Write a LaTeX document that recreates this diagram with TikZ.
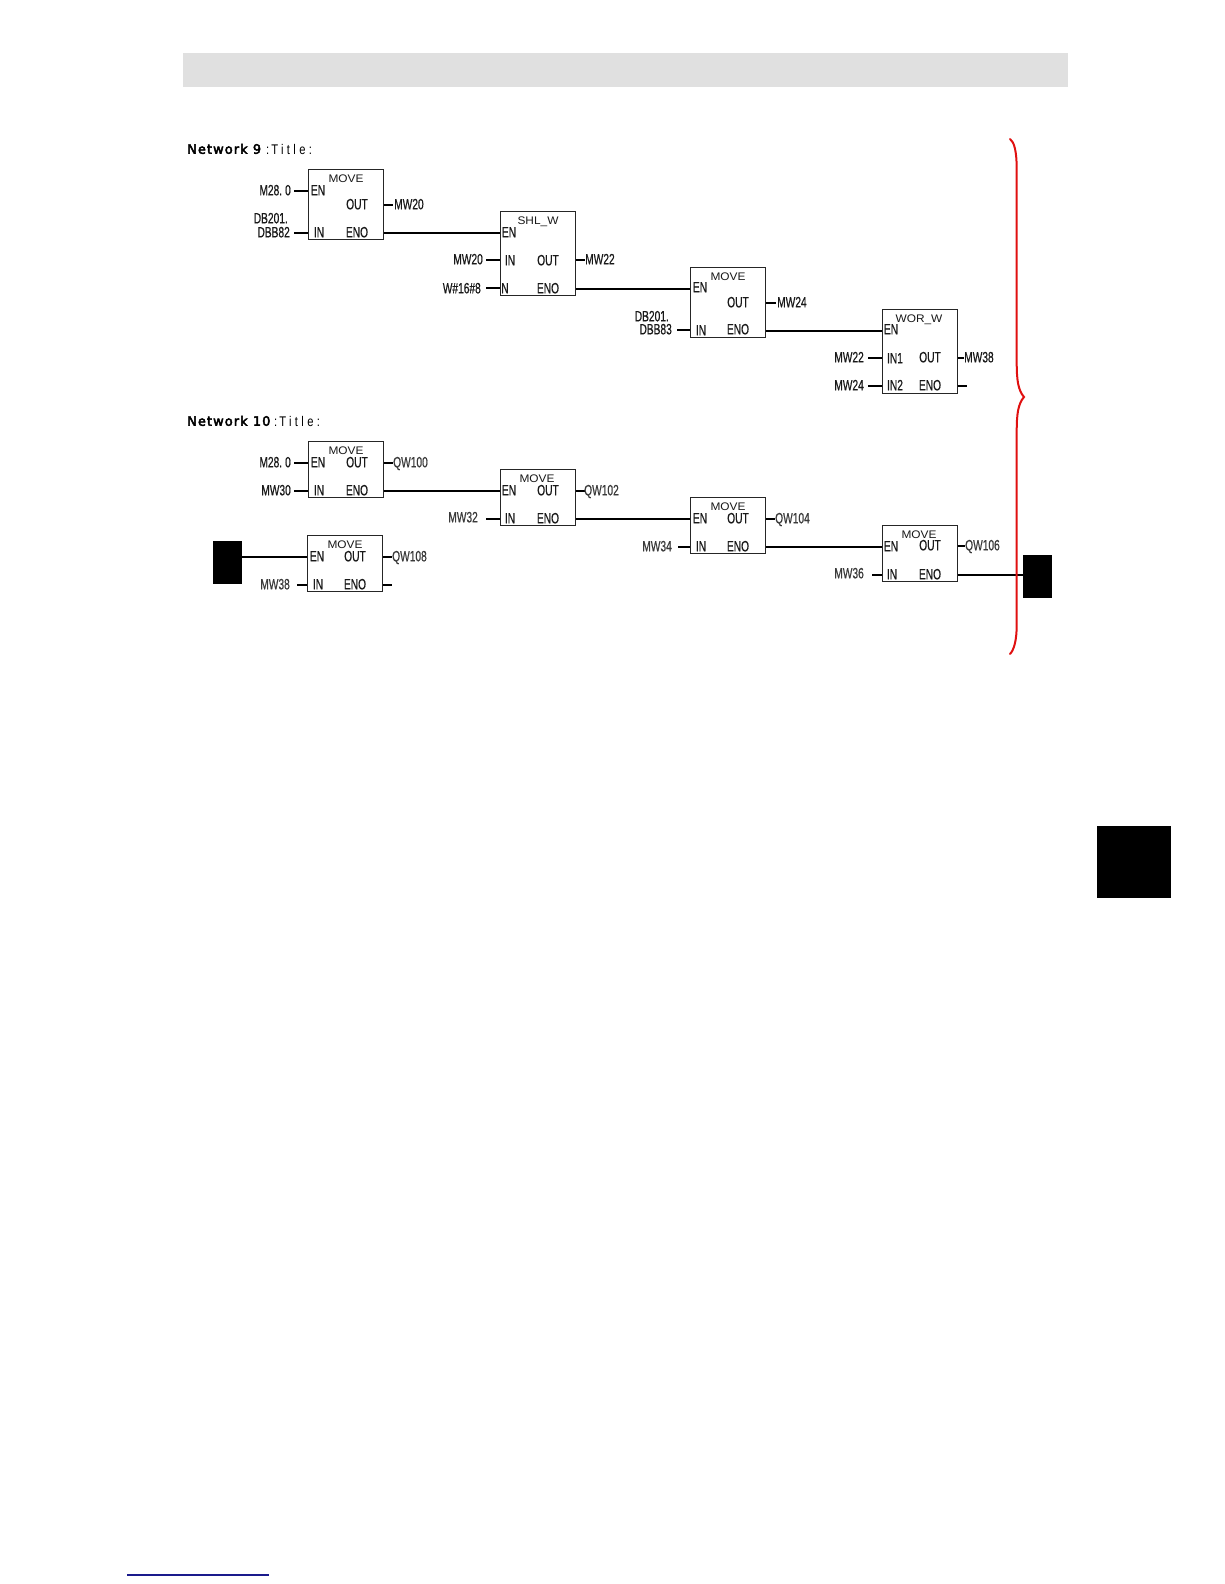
\documentclass[tikz,border=0pt]{standalone}
\usepackage{fontspec}
\newfontfamily\plcfont[FakeStretch=0.68,FakeBold=0.5]{Liberation Sans}
\newfontfamily\plchead[FakeStretch=1.08]{Liberation Sans}
\newfontfamily\plcbold[FakeStretch=1.0,FakeBold=3.5,LetterSpace=8]{DejaVu Sans}
\newfontfamily\plctitle[FakeStretch=0.8,LetterSpace=24]{Liberation Sans}
\definecolor{bandgray}{HTML}{E0E0E0}
\definecolor{bracered}{HTML}{E01010}
\definecolor{linkblue}{HTML}{1A1A8C}
\definecolor{softtext}{HTML}{3A3A3A}
\tikzset{
  x=1pt,y=-1pt,
  fblock/.style={draw=black!85,line width=1pt,fill=white,inner sep=0,minimum width=75pt},
  wire/.style={line width=2pt,black},
  pin/.style={font=\plcfont\fontsize{15}{15}\selectfont,inner sep=0,text=black!90,anchor=center,text height=10.7pt,text depth=0pt},
  lbl/.style={pin,anchor=west},
  lblr/.style={pin,anchor=east},
  soft/.style={text=softtext},
  headtxt/.style={font=\plchead\fontsize{11}{11}\selectfont,inner sep=0,text=black!90,anchor=center,text height=7.9pt,text depth=0pt},
  nettitle/.style={font=\plcbold\fontsize{13}{13}\selectfont,inner sep=0,anchor=west,text height=9.5pt,text depth=0pt},
  subtitle/.style={font=\plctitle\fontsize{14}{14}\selectfont,inner sep=0,anchor=west,text height=10pt,text depth=0pt},
  tabbox/.style={fill=black,draw=none,inner sep=0},
}
\begin{document}
\begin{tikzpicture}
\useasboundingbox (0,0) rectangle (1224,1584);
% header band
\node[fill=bandgray,inner sep=0,minimum width=885pt,minimum height=34pt] (band) at (625.5,70) {};
% titles
\node[nettitle] (n9) at (187,149) {Network 9};
\node[subtitle] (t9) at (266,149) {:\kern2pt Title:};
\node[nettitle] (n10) at (187,421) {Network 10};
\node[subtitle] (t10) at (274,421) {:\kern2pt Title:};
% blocks network 9
\node[fblock,minimum height=70pt] (b1) at (346,204.7) {};
\node[fblock,minimum height=83.6pt] (b2) at (537.5,253.5) {};
\node[fblock,minimum height=69.7pt] (b3) at (728.3,302.2) {};
\node[fblock,minimum height=84pt] (b4) at (919.5,351) {};
% blocks network 10
\node[fblock,minimum height=56pt] (ba) at (346,469.7) {};
\node[fblock,minimum height=56pt] (bb) at (537.5,497.7) {};
\node[fblock,minimum height=56pt] (bc) at (728.3,525.3) {};
\node[fblock,minimum height=56pt] (bd) at (919.5,553.3) {};
\node[fblock,minimum height=56pt] (be) at (345.2,563.8) {};
% black tabs
\node[tabbox,minimum width=29pt,minimum height=43pt] (tl) at (227.5,562.5) {};
\node[tabbox,minimum width=29pt,minimum height=43pt] (tr) at (1037.5,576.5) {};
\node[tabbox,minimum width=74pt,minimum height=72pt] (tab) at (1134,862) {};
% free wire ends
\foreach \n/\x/\y in {a1/294/191,a2/294/233,a3/393/205,
  c1/486/260,c2/486/288,c3/585/260,
  d1/677/330,d2/776/303,
  e1/868/358,e2/868/386,e3/964/358,e4/967/386,
  f1/294/463,f2/294/491,f3/393/463,
  g1/486/519,g2/585/491,
  h1/678/547,h2/775/519,
  i1/872/575,i2/965/546,
  j1/297/585,j2/392/557,j3/392/585}
  \coordinate (\n) at (\x,\y);
% input / output stubs
\foreach \c/\b in {a1/b1,a2/b1,c1/b2,c2/b2,d1/b3,e1/b4,e2/b4,f1/ba,f2/ba,g1/bb,h1/bc,i1/bd,j1/be}
  \draw[wire] (\c) -- (\b.west |- \c);
\foreach \c/\b in {a3/b1,c3/b2,d2/b3,e3/b4,e4/b4,f3/ba,g2/bb,h2/bc,i2/bd,j2/be,j3/be}
  \draw[wire] (\b.east |- \c) -- (\c);
% power flow
\coordinate (p1) at (383,233);
\coordinate (p2) at (575,289);
\coordinate (p3) at (766,331);
\coordinate (p4) at (383,491);
\coordinate (p5) at (575,519);
\coordinate (p6) at (766,547);
\coordinate (p7) at (957,575);
\coordinate (p8) at (242,557);
\draw[wire] (b1.east |- p1) -- (b2.west |- p1);
\draw[wire] (b2.east |- p2) -- (b3.west |- p2);
\draw[wire] (b3.east |- p3) -- (b4.west |- p3);
\draw[wire] (ba.east |- p4) -- (bb.west |- p4);
\draw[wire] (bb.east |- p5) -- (bc.west |- p5);
\draw[wire] (bc.east |- p6) -- (bd.west |- p6);
\draw[wire] (bd.east |- p7) -- (tr.west |- p7);
\draw[wire] (tl.east |- p8) -- (be.west |- p8);
% block b1
\node[headtxt] (l1) at (346,179) {MOVE};
\node[pin] (l2) at (318,190) {EN};
\node[pin] (l3) at (319,232) {IN};
\node[pin] (l4) at (357,204) {OUT};
\node[pin] (l5) at (357,232) {ENO};
\node[lblr] (l6) at (291,190) {M28.\kern3pt 0};
\node[lblr] (l7) at (288,218) {DB201.};
\node[lblr] (l8) at (290,232) {DBB82};
\node[lbl] (l9) at (394,204) {MW20};
% block b2
\node[headtxt] (m1) at (538,221) {SHL\_W};
\node[pin] (m2) at (509,232) {EN};
\node[pin] (m3) at (510,260) {IN};
\node[pin] (m4) at (505,288) {N};
\node[pin] (m5) at (548,260) {OUT};
\node[pin] (m6) at (548,288) {ENO};
\node[lblr] (m7) at (483,259) {MW20};
\node[lblr] (m8) at (481,288) {W\#16\#8};
\node[lbl] (m9) at (585,259) {MW22};
% block b3
\node[headtxt] (o1) at (728,277) {MOVE};
\node[pin] (o2) at (700,287) {EN};
\node[pin] (o3) at (701,330) {IN};
\node[pin] (o4) at (738,302) {OUT};
\node[pin] (o5) at (738,329) {ENO};
\node[lblr] (o6) at (669,316) {DB201.};
\node[lblr] (o7) at (672,329) {DBB83};
\node[lbl] (o8) at (777,302) {MW24};
% block b4
\node[headtxt] (q1) at (919,319) {WOR\_W};
\node[pin] (q2) at (891,329) {EN};
\node[pin] (q3) at (895,358) {IN1};
\node[pin] (q4) at (895,385) {IN2};
\node[pin] (q5) at (930,357) {OUT};
\node[pin] (q6) at (930,385) {ENO};
\node[lblr] (q7) at (864,357) {MW22};
\node[lblr] (q8) at (864,385) {MW24};
\node[lbl] (q9) at (964,357) {MW38};
% block ba
\node[headtxt] (r1) at (346,451) {MOVE};
\node[pin] (r2) at (318,462) {EN};
\node[pin] (r3) at (319,490) {IN};
\node[pin] (r4) at (357,462) {OUT};
\node[pin] (r5) at (357,490) {ENO};
\node[lblr] (r6) at (291,462) {M28.\kern3pt 0};
\node[lblr] (r7) at (291,490) {MW30};
\node[lbl,soft] (r8) at (393,462) {QW100};
% block bb
\node[headtxt] (s1) at (537,479) {MOVE};
\node[pin] (s2) at (509,490) {EN};
\node[pin] (s3) at (510,518) {IN};
\node[pin] (s4) at (548,490) {OUT};
\node[pin] (s5) at (548,518) {ENO};
\node[lblr,soft] (s6) at (478,517) {MW32};
\node[lbl,soft] (s7) at (584,490) {QW102};
% block bc
\node[headtxt] (u1) at (728,507) {MOVE};
\node[pin] (u2) at (700,518) {EN};
\node[pin] (u3) at (701,546) {IN};
\node[pin] (u4) at (738,518) {OUT};
\node[pin] (u5) at (738,546) {ENO};
\node[lblr,soft] (u6) at (672,546) {MW34};
\node[lbl,soft] (u7) at (775,518) {QW104};
% block bd
\node[headtxt] (v1) at (919,535) {MOVE};
\node[pin] (v2) at (891,546) {EN};
\node[pin] (v3) at (892,574) {IN};
\node[pin] (v4) at (930,545) {OUT};
\node[pin] (v5) at (930,574) {ENO};
\node[lblr,soft] (v6) at (864,573) {MW36};
\node[lbl,soft] (v7) at (965,545) {QW106};
% block be
\node[headtxt] (w1) at (345,545) {MOVE};
\node[pin] (w2) at (317,556) {EN};
\node[pin] (w3) at (318,584) {IN};
\node[pin] (w4) at (355,556) {OUT};
\node[pin] (w5) at (355,584) {ENO};
\node[lblr,soft] (w6) at (290,584) {MW38};
\node[lbl,soft] (w7) at (392,556) {QW108};
% red brace
\draw[bracered,line width=2pt,line cap=round]
  (1010,139) .. controls (1014,142) and (1016.7,150) .. (1016.7,170)
  -- (1016.7,362)
  .. controls (1016.7,380) and (1018,390) .. (1024,397)
  .. controls (1018,404) and (1016.7,414) .. (1016.7,432)
  -- (1016.7,625)
  .. controls (1016.7,640) and (1014,650) .. (1010,654);
% bottom rule
\coordinate (bl) at (127,1575);
\coordinate (br) at (269,1575);
\draw[linkblue,line width=1.1pt] (bl) -- (br);
\end{tikzpicture}
\end{document}
